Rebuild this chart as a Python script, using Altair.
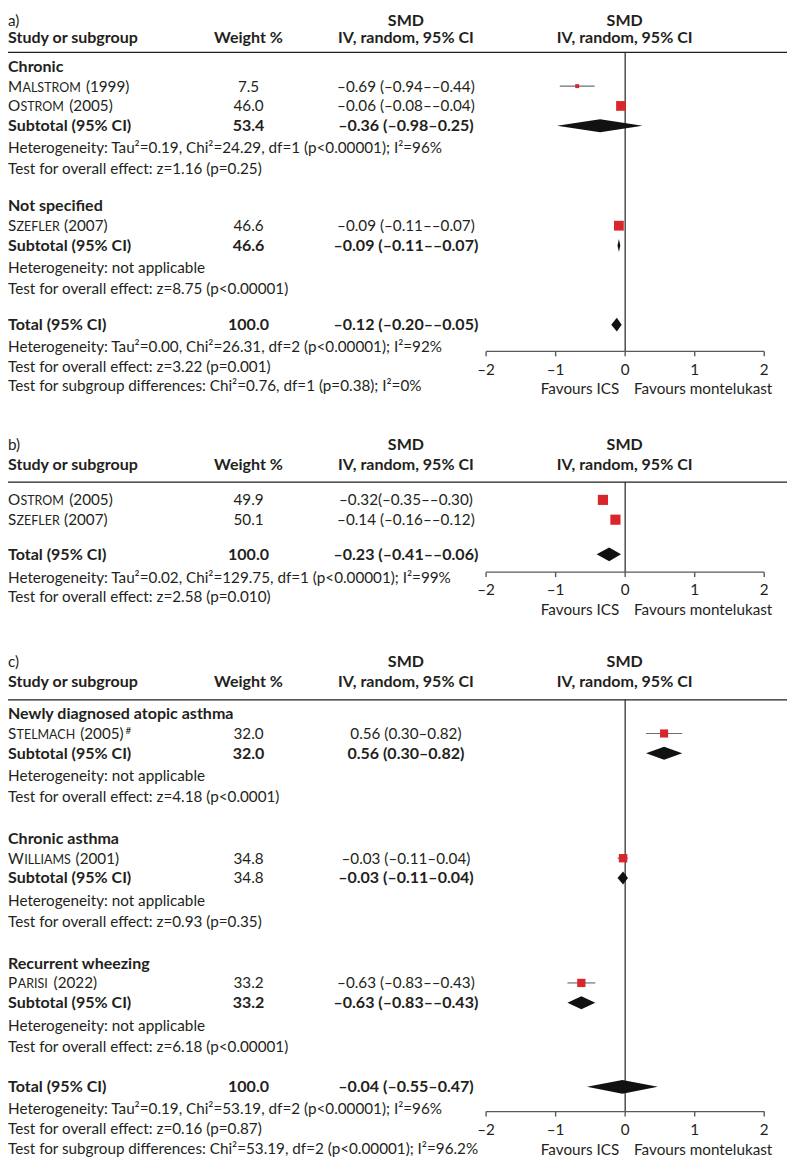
import altair as alt
import pandas as pd

# ---------------- data ----------------
# Panel a
a_groups = ["Chronic", "Not specified"]
a_study = ["Malstrom", "Ostrom", "Szefler"]
a_year = ["(1999)", "(2005)", "(2007)"]
a_sup = ["", "", ""]
a_study_group = [0, 0, 1]
a_weight = ["7.5", "46.0", "46.6"]
a_smd = [-0.69, -0.06, -0.09]
a_lo = [-0.94, -0.08, -0.11]
a_hi = [-0.44, -0.04, -0.07]
a_ci = ["–0.69 (–0.94––0.44)", "–0.06 (–0.08––0.04)", "–0.09 (–0.11––0.07)"]
a_sub_weight = ["53.4", "46.6"]
a_sub_weight_bold = [True, True]
a_sub_smd = [-0.36, -0.09]
a_sub_lo = [-0.98, -0.11]
a_sub_hi = [0.25, -0.07]
a_sub_ci = ["–0.36 (–0.98–0.25)", "–0.09 (–0.11––0.07)"]
a_sub_het = ["Heterogeneity: Tau²=0.19, Chi²=24.29, df=1 (p<0.00001); I²=96%",
             "Heterogeneity: not applicable"]
a_sub_test = ["Test for overall effect: z=1.16 (p=0.25)",
              "Test for overall effect: z=8.75 (p<0.00001)"]
a_total = ["100.0", -0.12, -0.20, -0.05, "–0.12 (–0.20––0.05)"]
a_total_notes = ["Heterogeneity: Tau²=0.00, Chi²=26.31, df=2 (p<0.00001); I²=92%",
                 "Test for overall effect: z=3.22 (p=0.001)",
                 "Test for subgroup differences: Chi²=0.76, df=1 (p=0.38); I²=0%"]

# Panel b
b_groups = [None]
b_study = ["Ostrom", "Szefler"]
b_year = ["(2005)", "(2007)"]
b_sup = ["", ""]
b_study_group = [0, 0]
b_weight = ["49.9", "50.1"]
b_smd = [-0.32, -0.14]
b_lo = [-0.35, -0.16]
b_hi = [-0.30, -0.12]
b_ci = ["–0.32(–0.35––0.30)", "–0.14 (–0.16––0.12)"]
b_total = ["100.0", -0.23, -0.41, -0.06, "–0.23 (–0.41––0.06)"]
b_total_notes = ["Heterogeneity: Tau²=0.02, Chi²=129.75, df=1 (p<0.00001); I²=99%",
                 "Test for overall effect: z=2.58 (p=0.010)"]

# Panel c
c_groups = ["Newly diagnosed atopic asthma", "Chronic asthma", "Recurrent wheezing"]
c_study = ["Stelmach", "Williams", "Parisi"]
c_year = ["(2005)", "(2001)", "(2022)"]
c_sup = ["#", "", ""]
c_study_group = [0, 1, 2]
c_weight = ["32.0", "34.8", "33.2"]
c_smd = [0.56, -0.03, -0.63]
c_lo = [0.30, -0.11, -0.83]
c_hi = [0.82, 0.04, -0.43]
c_ci = ["0.56 (0.30–0.82)", "–0.03 (–0.11–0.04)", "–0.63 (–0.83––0.43)"]
c_sub_weight = ["32.0", "34.8", "33.2"]
c_sub_weight_bold = [True, False, True]
c_sub_smd = [0.56, -0.03, -0.63]
c_sub_lo = [0.30, -0.11, -0.83]
c_sub_hi = [0.82, 0.04, -0.43]
c_sub_ci = ["0.56 (0.30–0.82)", "–0.03 (–0.11–0.04)", "–0.63 (–0.83––0.43)"]
c_sub_het = ["Heterogeneity: not applicable"] * 3
c_sub_test = ["Test for overall effect: z=4.18 (p<0.0001)",
              "Test for overall effect: z=0.93 (p=0.35)",
              "Test for overall effect: z=6.18 (p<0.00001)"]
c_total = ["100.0", -0.04, -0.55, 0.47, "–0.04 (–0.55–0.47)"]
c_total_notes = ["Heterogeneity: Tau²=0.19, Chi²=53.19, df=2 (p<0.00001); I²=96%",
                 "Test for overall effect: z=0.16 (p=0.87)",
                 "Test for subgroup differences: Chi²=53.19, df=2 (p<0.00001); I²=96.2%"]

tick_values = [-2, -1, 0, 1, 2]
tick_labels = ["–2", "–1", "0", "1", "2"]
fav_left, fav_right = "Favours ICS", "Favours montelukast"

# ---------------- style / layout ----------------
FONT = "Lato"
FS = 15.4
FSB = 16.2
SC = 12.6
INK = "#231f20"
RED = "#d9262c"
CIG = "#6d6e71"
AXG = "#58595b"

W, H = 787, 1156
OY = 8
X_LEFT, X_WT, X_CI, X_HDR = 0, 243, 402, 623
XS = alt.Scale(domain=[-2, 2], range=[483, 764], nice=False, zero=False)
YS = alt.Scale(domain=[OY, OY + H], range=[0, H], nice=False, zero=False)

WID = {'A': .68, 'C': .66, 'E': .55, 'F': .53, 'H': .75, 'I': .28, 'L': .48, 'M': .92,
       'O': .78, 'P': .61, 'R': .63, 'S': .53, 'T': .59, 'W': 1.03, 'Z': .60, 'N': .76,
       'K': .66, ' ': .19, '(': .29, ')': .29}


def tw(s, size):
    return sum(WID.get(ch, .58) for ch in s) * size


PANELS = [
    dict(label="a)", h1=15, h2=32, sep=47, first=14, het=22, test=21, ggap=38, tgap=37,
         thet=22, tnote=20, axis=27,
         D=dict(groups=a_groups, study=a_study, year=a_year, sup=a_sup, sg=a_study_group,
                weight=a_weight, smd=a_smd, lo=a_lo, hi=a_hi, ci=a_ci,
                sw=a_sub_weight, swb=a_sub_weight_bold, ss=a_sub_smd, sl=a_sub_lo, sh=a_sub_hi,
                sci=a_sub_ci, shet=a_sub_het, stest=a_sub_test, total=a_total, tn=a_total_notes)),
    dict(label="b)", h1=443, h2=463, sep=481, first=18, het=22, test=21, ggap=38, tgap=35,
         thet=23, tnote=20, axis=18,
         D=dict(groups=b_groups, study=b_study, year=b_year, sup=b_sup, sg=b_study_group,
                weight=b_weight, smd=b_smd, lo=b_lo, hi=b_hi, ci=b_ci,
                sw=None, total=b_total, tn=b_total_notes)),
    dict(label="c)", h1=662, h2=683, sep=701, first=14, het=23, test=21, ggap=42, tgap=41,
         thet=22, tnote=20, axis=25,
         D=dict(groups=c_groups, study=c_study, year=c_year, sup=c_sup, sg=c_study_group,
                weight=c_weight, smd=c_smd, lo=c_lo, hi=c_hi, ci=c_ci,
                sw=c_sub_weight, swb=c_sub_weight_bold, ss=c_sub_smd, sl=c_sub_lo, sh=c_sub_hi,
                sci=c_sub_ci, shet=c_sub_het, stest=c_sub_test, total=c_total, tn=c_total_notes)),
]

T = {k: [] for k in ["left_reg", "left_bold", "wt_reg", "wt_bold", "ci_reg", "ci_bold",
                     "hdr", "init", "rest", "year", "sup"]}
SQ, CI, DIA, ZERO, SEP, AXL, TICK, TLAB, FAV = [], [], [], [], [], [], [], [], []
_did = [0]


def add_diamond(lo, est, hi, y, half):
    k = _did[0]
    _did[0] += 1
    DIA.extend([dict(id=k, x=lo, y=y, y2=y), dict(id=k, x=est, y=y - half, y2=y + half),
                dict(id=k, x=hi, y=y, y2=y)])


def add_study(D, i, y):
    name = D["study"][i]
    init, rest = name[0], name[1:].upper()
    x1 = tw(init, FS) + 0.5
    x2 = x1 + tw(rest, SC) + tw(" ", FS) + 3
    T["init"].append(dict(y=y, px=X_LEFT, text=init))
    T["rest"].append(dict(y=y, px=x1, text=rest))
    T["year"].append(dict(y=y, px=x2, text=D["year"][i]))
    if D["sup"][i]:
        T["sup"].append(dict(y=y, px=x2 + tw(D["year"][i], FS) + 1, text=D["sup"][i]))
    T["wt_reg"].append(dict(y=y, px=X_WT, text=D["weight"][i]))
    T["ci_reg"].append(dict(y=y, px=X_CI, text=D["ci"][i]))
    SQ.append(dict(x=D["smd"][i], y=y, w=float(D["weight"][i])))
    CI.append(dict(lo=D["lo"][i], hi=D["hi"][i], y=y))


for P in PANELS:
    D = P["D"]
    T["left_reg"].append(dict(y=P["h1"], px=X_LEFT, text=P["label"]))
    T["left_bold"].append(dict(y=P["h2"], px=X_LEFT, text="Study or subgroup"))
    T["wt_bold"].append(dict(y=P["h2"], px=X_WT, text="Weight %"))
    for px, key in [(X_CI, "ci_bold"), (X_HDR, "hdr")]:
        T[key].append(dict(y=P["h1"], px=px, text="SMD"))
        T[key].append(dict(y=P["h2"], px=px, text="IV, random, 95% CI"))
    SEP.append(dict(y=P["sep"]))
    y = P["sep"] + P["first"]
    last = y
    for gi, g in enumerate(D["groups"]):
        if gi > 0:
            y = last + P["ggap"]
        if g is not None:
            T["left_bold"].append(dict(y=y, px=X_LEFT, text=g))
            y += 20
        for si, sg in enumerate(D["sg"]):
            if sg == gi:
                add_study(D, si, y)
                last = y
                y += 20
        if D.get("sw"):
            T["left_bold"].append(dict(y=y, px=X_LEFT, text="Subtotal (95% CI)"))
            T["wt_bold" if D["swb"][gi] else "wt_reg"].append(dict(y=y, px=X_WT, text=D["sw"][gi]))
            T["ci_bold"].append(dict(y=y, px=X_CI, text=D["sci"][gi]))
            add_diamond(D["sl"][gi], D["ss"][gi], D["sh"][gi], y, 6.5)
            hy = y + P["het"]
            ty = hy + P["test"]
            T["left_reg"].append(dict(y=hy, px=X_LEFT, text=D["shet"][gi]))
            T["left_reg"].append(dict(y=ty, px=X_LEFT, text=D["stest"][gi]))
            last = ty
    ty = last + P["tgap"]
    tot = D["total"]
    T["left_bold"].append(dict(y=ty, px=X_LEFT, text="Total (95% CI)"))
    T["wt_bold"].append(dict(y=ty, px=X_WT, text=tot[0]))
    T["ci_bold"].append(dict(y=ty, px=X_CI, text=tot[4]))
    add_diamond(tot[2], tot[1], tot[3], ty, 7)
    ny = ty + P["thet"]
    for note in D["tn"]:
        T["left_reg"].append(dict(y=ny, px=X_LEFT, text=note))
        ny += P["tnote"]
    ay = ty + P["axis"]
    ZERO.append(dict(x=0, y=P["sep"], y2=ay))
    AXL.append(dict(lo=-2, hi=2, y=ay))
    for v, lab in zip(tick_values, tick_labels):
        TICK.append(dict(x=v, y=ay, y2=ay + 5))
        TLAB.append(dict(x=v, y=ay + 18, text=lab))
    FAV.append(dict(x=0, y=ay + 38, left=fav_left, right=fav_right))

# ---------------- chart ----------------
DY = 5.5


def text_layer(rows, align="left", bold=False, size=None, dy=DY):
    if size is None:
        size = FSB if bold else FS
    return alt.Chart(pd.DataFrame(rows)).mark_text(
        align=align, baseline="alphabetic", font=FONT, fontSize=size,
        fontWeight="bold" if bold else "normal", color=INK, dy=dy
    ).encode(x=alt.X("px:Q", scale=None, axis=None),
             y=alt.Y("y:Q", scale=YS, axis=None),
             text="text:N")


layers = [
    text_layer(T["left_reg"]),
    text_layer(T["left_bold"], bold=True),
    text_layer(T["wt_reg"], align="center"),
    text_layer(T["wt_bold"], align="center", bold=True),
    text_layer(T["ci_reg"], align="center"),
    text_layer(T["ci_bold"], align="center", bold=True),
    text_layer(T["hdr"], align="center", bold=True),
    text_layer(T["init"]),
    text_layer(T["rest"], size=SC),
    text_layer(T["year"]),
    text_layer(T["sup"], size=10, dy=DY - 5),
]

sep = alt.Chart(pd.DataFrame(SEP)).mark_rule(color="#231f20", strokeWidth=1.3).encode(
    x=alt.value(0), x2=alt.value(W), y=alt.Y("y:Q", scale=YS, axis=None))
zero = alt.Chart(pd.DataFrame(ZERO)).mark_rule(color="#231f20", strokeWidth=1.2).encode(
    x=alt.X("x:Q", scale=XS, axis=None), y=alt.Y("y:Q", scale=YS, axis=None), y2="y2:Q")
axl = alt.Chart(pd.DataFrame(AXL)).mark_rule(color=AXG, strokeWidth=1.4).encode(
    x=alt.X("lo:Q", scale=XS, axis=None), x2="hi:Q", y=alt.Y("y:Q", scale=YS, axis=None))
tick = alt.Chart(pd.DataFrame(TICK)).mark_rule(color=AXG, strokeWidth=1.4).encode(
    x=alt.X("x:Q", scale=XS, axis=None), y=alt.Y("y:Q", scale=YS, axis=None), y2="y2:Q")
tlab = alt.Chart(pd.DataFrame(TLAB)).mark_text(
    align="center", baseline="alphabetic", font=FONT, fontSize=FS, color=INK, dy=DY
).encode(x=alt.X("x:Q", scale=XS, axis=None), y=alt.Y("y:Q", scale=YS, axis=None), text="text:N")
fav_l = alt.Chart(pd.DataFrame(FAV)).mark_text(
    align="right", baseline="alphabetic", font=FONT, fontSize=FS, color=INK, dy=DY, dx=-6
).encode(x=alt.X("x:Q", scale=XS, axis=None), y=alt.Y("y:Q", scale=YS, axis=None), text="left:N")
fav_r = alt.Chart(pd.DataFrame(FAV)).mark_text(
    align="left", baseline="alphabetic", font=FONT, fontSize=FS, color=INK, dy=DY, dx=9
).encode(x=alt.X("x:Q", scale=XS, axis=None), y=alt.Y("y:Q", scale=YS, axis=None), text="right:N")
ci = alt.Chart(pd.DataFrame(CI)).mark_rule(color=CIG, strokeWidth=1.2).encode(
    x=alt.X("lo:Q", scale=XS, axis=None), x2="hi:Q", y=alt.Y("y:Q", scale=YS, axis=None))
sq = alt.Chart(pd.DataFrame(SQ)).mark_point(shape="square", filled=True, opacity=1, color=RED).encode(
    x=alt.X("x:Q", scale=XS, axis=None), y=alt.Y("y:Q", scale=YS, axis=None),
    size=alt.Size("w:Q", scale=alt.Scale(domain=[0, 100], range=[0, 210]), legend=None))
dia = alt.Chart(pd.DataFrame(DIA)).mark_area(color="#111111", opacity=1).encode(
    x=alt.X("x:Q", scale=XS, axis=None), y=alt.Y("y:Q", scale=YS, axis=None), y2="y2:Q",
    detail="id:N")

chart = alt.layer(sep, zero, axl, tick, tlab, fav_l, fav_r, ci, sq, dia, *layers).resolve_scale(
    x="independent"
).properties(width=W, height=H, padding=0, autosize="none").configure_view(stroke=None)

chart.save("out.html", embed_options={"renderer": "svg", "actions": False})
